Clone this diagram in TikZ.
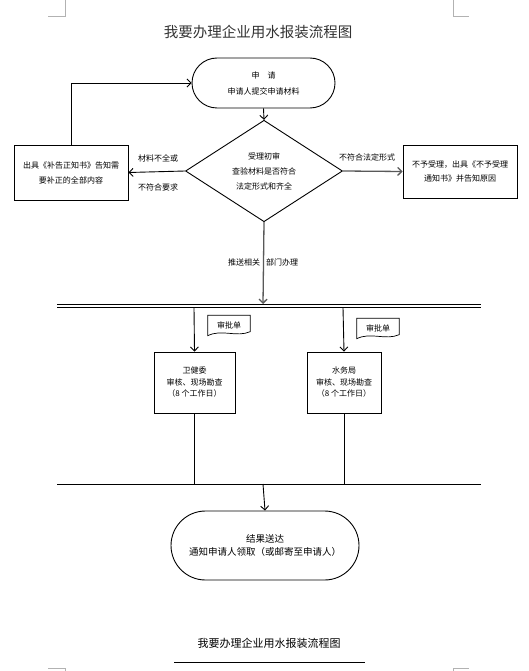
\documentclass[tikz,border=0pt]{standalone}
\usepackage{fontspec}
\setmainfont{Noto Sans CJK SC}
\usepackage{tikz}
\usetikzlibrary{shapes.geometric,shapes.misc,arrows.meta}

\begin{document}
\begin{tikzpicture}
		[x = 1pt, y = -1pt,
		 every node/.style = {font = \fontsize{8}{15}\selectfont, align = center, inner sep = 0pt},
		 term/.style = {draw, rounded rectangle, line width = 0.9pt},
		 box/.style = {draw, rectangle, line width = 0.9pt},
		 check/.style = {draw, diamond, line width = 0.9pt},
		 doc/.style = {minimum width = 42, minimum height = 19},
		 link/.style = {line width = 0.9pt},
		 arr/.style = {link, -{Straight Barb[length = 4pt, width = 8pt]}},
		 grey arr/.style = {arr, line width = 1.3pt, draw = black!65},
		 cropmark/.style = {draw = black!30, line width = 0.8pt}]
			\useasboundingbox (0,0) rectangle (528,671);
			% page corners
			\draw[cropmark] (48,16) -- (65,16) -- (65,0);
			\draw[cropmark] (469,16) -- (453,16) -- (453,0);
			\draw[cropmark] (48,668) -- (65,668) -- (65,671);
			\draw[cropmark] (469,668) -- (453,668) -- (453,671);
			\node[font = \fontsize{14.5}{16}\selectfont, text = black!80] (title) at (258,32) {我要办理企业用水报装流程图};
			% nodes
			\node[term, minimum width = 143, minimum height = 50, font = \fontsize{8}{16}\selectfont] (req) at (263.5,83) {申\quad 请\\申请人提交申请材料};
			\node[check, minimum width = 157, minimum height = 96] (chk) at (264,171) {受理初审\\查验材料是否符合\\法定形式和齐全};
			\node[box, minimum width = 114, minimum height = 55] (fix) at (71,172.5) {出具《补告正知书》告知需\\要补正的全部内容};
			\node[box, minimum width = 114, minimum height = 53, font = \fontsize{8}{14}\selectfont] (rej) at (460,171.5) {不予受理，出具《不予受理\\通知书》并告知原因};
			\node[box, minimum width = 81, minimum height = 61, font = \fontsize{8}{11.5}\selectfont] (wj) at (194.5,382.5) {卫健委\\审核、现场勘查\\（8 个工作日）};
			\node[box, minimum width = 74, minimum height = 61, font = \fontsize{8}{11.5}\selectfont] (sw) at (344,382.5) {水务局\\审核、现场勘查\\（8 个工作日）};
			\node[term, minimum width = 188, minimum height = 69, font = \fontsize{9.5}{13}\selectfont] (res) at (265,545.5) {结果送达\\通知申请人领取（或邮寄至申请人）};
			\node[doc] (doc1) at (229,325) {审批单};
			\node[doc] (doc2) at (378,328) {审批单};
			\foreach \d in {doc1, doc2}
				\draw[line width = 0.7pt] (\d.north west) -- (\d.north east) -- ([yshift = 3pt]\d.south east)
					.. controls ([xshift = -14pt, yshift = -3pt]\d.south east) and ([xshift = 14pt, yshift = 6pt]\d.south west) .. ([yshift = -1pt]\d.south west) -- cycle;
			% bus lines
			\coordinate (busW) at (57,306);
			\coordinate (busE) at (481,306);
			\coordinate (bus) at (263,304);
			\coordinate (b1) at (194,308);
			\coordinate (b2) at (343,308);
			\coordinate (lowW) at (57,484);
			\coordinate (lowE) at (481,484);
			\coordinate (low) at (263,484);
			% connectors
			\draw[arr] (req.south) -- (chk.north);
			\draw[arr] (fix.north) |- (req.west);
			\draw[arr] (chk.west) -- (fix.east);
			\draw[grey arr] (chk.east) -- (rej.west);
			\draw[grey arr] (chk.south) -- (bus);
			\draw[link, double, double distance = 2.4pt] (busW) -- (busE);
			\draw[arr] (b1) -- (wj.north);
			\draw[arr] (b2) -- (sw.north);
			\draw[link] (wj.south) -- (wj.south |- low);
			\draw[link] (sw.south) -- (sw.south |- low);
			\draw[link] (lowW) -- (lowE);
			\draw[arr] (low) -- (res.north);
			% labels
			\node at (158,158) {材料不全或};
			\node at (158,187) {不符合要求};
			\node at (367,157) {不符合法定形式};
			\node at (263,262) {推送相关\hspace{6pt}部门办理};
			% footer
			\node[font = \fontsize{11}{13}\selectfont] (foot) at (269,643) {我要办理企业用水报装流程图};
			\coordinate (ulW) at (174,662);
			\coordinate (ulE) at (365,662);
			\draw[line width = 1pt] (ulW) -- (ulE);
	\end{tikzpicture}
\end{document}
